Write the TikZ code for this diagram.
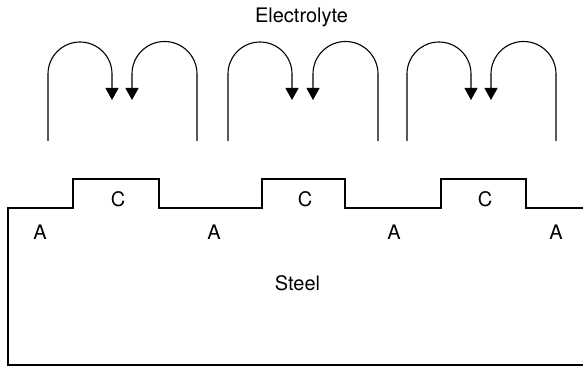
\documentclass[tikz,border=0pt]{standalone}
\usepackage{fontspec}
\setmainfont{TeX Gyre Heros}
\usetikzlibrary{arrows.meta}

\begin{document}
\begin{tikzpicture}[
	x=1pt, y=1pt,
	tag/.style={ font=\fontsize{20}{24}\selectfont, inner sep=0pt, anchor=base },
	flow/.style={ line width=1.1pt, -{Triangle[width=13pt,length=12pt]} },
	metal/.style={ line width=1.1pt }
]
\useasboundingbox (0,0) rectangle (583,367);

\node at (301.5,344) (elec) [tag] {Electrolyte};
\node at (297.5,77) (steel) [tag] {Steel};

\foreach \x/\n in {118/c1,305/c2,485/c3} \node at (\x,160.5) (\n) [tag] {C};
\foreach \x/\n in {40/a1,214/a2,394/a3,556/a4} \node at (\x,128) (\n) [tag] {A};

% surface of the steel
\draw[metal] (583,159) -- (526,159) -- (526,188) -- (441,188) -- (441,159)
	-- (345,159) -- (345,188) -- (262,188) -- (262,159) -- (159,159)
	-- (159,188) -- (73,188) -- (73,159) -- (8,159) -- (8,2) -- (583,2);

% current loops
\foreach \l/\r [count=\i] in {48/112,228/293,407/472} {
	\coordinate (lfoot\i) at (\l,226);
	\draw[flow] (lfoot\i) -- ++(0,67) arc (180:0:32) -- ++(0,-26);
}
\foreach \l/\r [count=\i] in {132/197,312/378,491/556} {
	\coordinate (rfoot\i) at (\r,226);
	\draw[flow] (rfoot\i) -- ++(0,67) arc (0:180:32.5) -- ++(0,-26);
}

\end{tikzpicture}
\end{document}
